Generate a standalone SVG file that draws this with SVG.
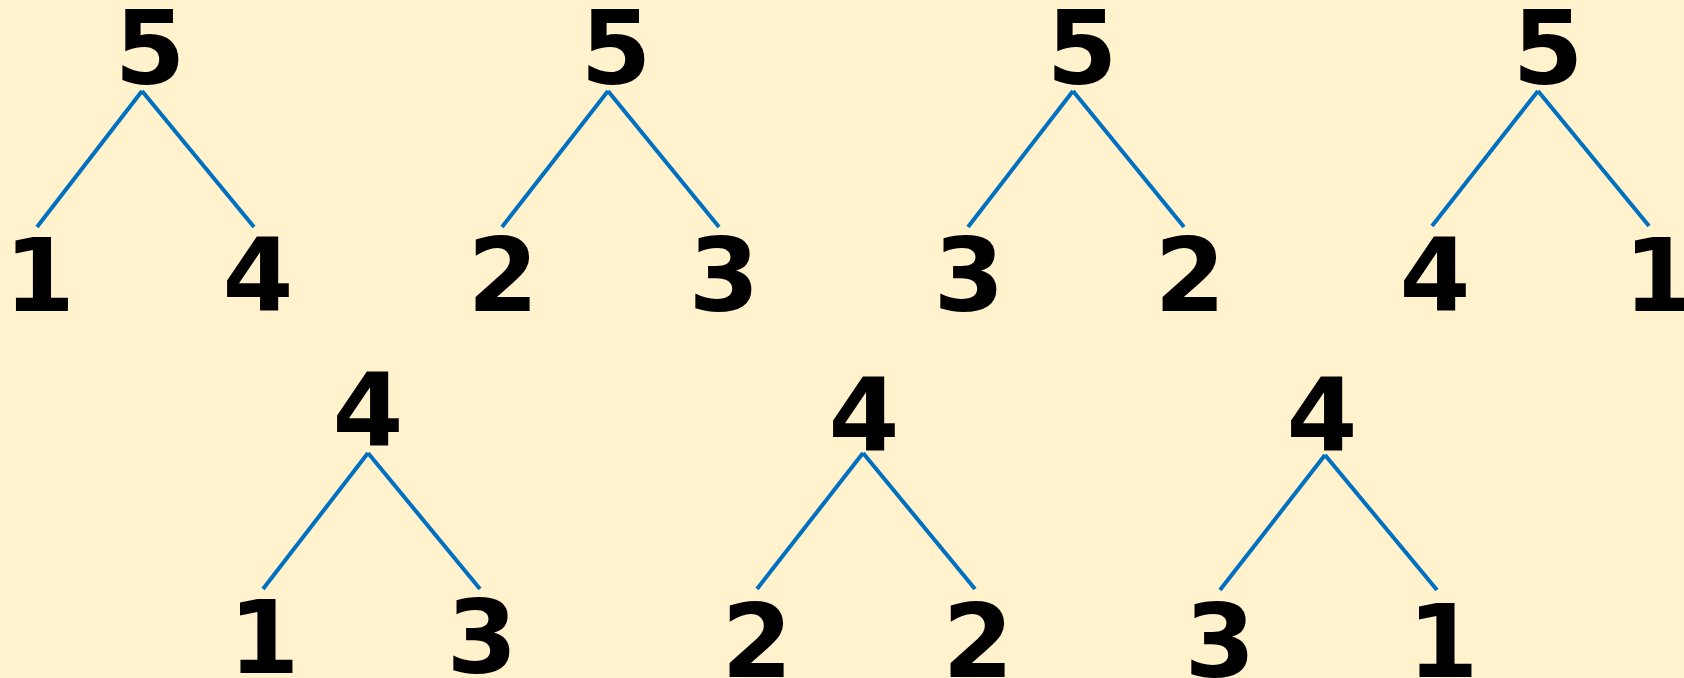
<svg xmlns="http://www.w3.org/2000/svg" width="1684" height="678" viewBox="0 0 1684 678">
<style>
.n{font-family:"DejaVu Sans",sans-serif;font-weight:bold;font-size:102px;fill:#000;text-anchor:middle}
.e line{stroke:#0070C0;stroke-width:4;fill:none}
</style>
<rect width="1684" height="678" fill="#FFF2CC"/>
<g class="e" id="connectors">
<line x1="142" y1="91" x2="37" y2="227"/><line x1="142" y1="91" x2="254" y2="227"/>
<line x1="608" y1="91" x2="502" y2="227"/><line x1="608" y1="91" x2="719" y2="227"/>
<line x1="1073" y1="91" x2="968" y2="227"/><line x1="1073" y1="91" x2="1184" y2="227"/>
<line x1="1538" y1="91" x2="1432" y2="226"/><line x1="1538" y1="91" x2="1649" y2="226"/>
<line x1="368" y1="453" x2="263" y2="589"/><line x1="368" y1="453" x2="480" y2="589"/>
<line x1="863" y1="453" x2="757" y2="589"/><line x1="863" y1="453" x2="975" y2="589"/>
<line x1="1325" y1="455" x2="1220" y2="590"/><line x1="1325" y1="455" x2="1437" y2="590"/>
</g>
<g id="t1-root"><text class="n" x="150" y="84">5</text></g>
<g id="t1-l"><text class="n" x="39.5" y="311">1</text></g>
<g id="t1-r"><text class="n" x="258" y="311">4</text></g>
<g id="t2-root"><text class="n" x="616" y="84">5</text></g>
<g id="t2-l"><text class="n" x="503" y="311">2</text></g>
<g id="t2-r"><text class="n" x="724" y="311">3</text></g>
<g id="t3-root"><text class="n" x="1082" y="84">5</text></g>
<g id="t3-l"><text class="n" x="969" y="311">3</text></g>
<g id="t3-r"><text class="n" x="1190" y="311">2</text></g>
<g id="t4-root"><text class="n" x="1548" y="84">5</text></g>
<g id="t4-l"><text class="n" x="1435" y="311">4</text></g>
<g id="t4-r"><text class="n" x="1659" y="311">1</text></g>
<g id="b1-root"><text class="n" x="368" y="446">4</text></g>
<g id="b1-l"><text class="n" x="264" y="673">1</text></g>
<g id="b1-r"><text class="n" x="482" y="673">3</text></g>
<g id="b2-root"><text class="n" x="864" y="451">4</text></g>
<g id="b2-l"><text class="n" x="757" y="677">2</text></g>
<g id="b2-r"><text class="n" x="978" y="677">2</text></g>
<g id="b3-root"><text class="n" x="1322" y="451">4</text></g>
<g id="b3-l"><text class="n" x="1220" y="677">3</text></g>
<g id="b3-r"><text class="n" x="1443" y="677">1</text></g>
</svg>
